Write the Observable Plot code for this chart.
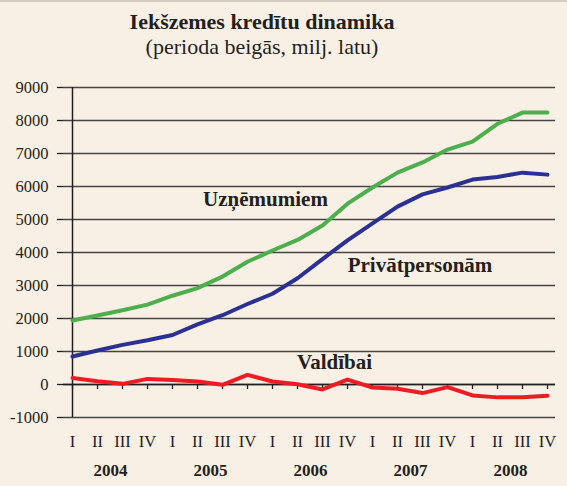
<!DOCTYPE html>
<html><head><meta charset="utf-8">
<script src="https://cdn.jsdelivr.net/npm/d3@7"></script>
<script src="https://cdn.jsdelivr.net/npm/@observablehq/plot@0.6"></script>
<style>
html,body{margin:0;padding:0;background:#f8f0e4;}
#wrap{position:relative;width:567px;height:486px;background:#f8f0e4;font-family:"Liberation Serif","Times New Roman",serif;color:#231f20;overflow:hidden;}
#topbar{position:absolute;left:0;top:0;width:567px;height:2px;background:#d6cec5;}
#head{position:relative;height:70px;}
.t{position:absolute;left:0;width:524px;text-align:center;line-height:1;font-size:22px;white-space:nowrap;}
#title{top:11px;font-weight:bold;}
#sub{top:36px;}
svg{display:block;}
</style></head><body>
<div id="wrap"><div id="topbar"></div>
<div id="head"><div class="t" id="title">Iekšzemes kredītu dinamika</div><div class="t" id="sub">(perioda beigās, milj. latu)</div></div>
<div id="chart"></div></div>
<script>
const years = [2004, 2005, 2006, 2007, 2008];
const quarterNames = ["I", "II", "III", "IV"];
const uznemumiem = [1940, 2090, 2250, 2420, 2690, 2920, 3270, 3720, 4060, 4380, 4820, 5480, 5970, 6420, 6730, 7120, 7360, 7900, 8240, 8240];
const privatpersonam = [850, 1030, 1200, 1340, 1500, 1820, 2100, 2440, 2750, 3220, 3800, 4370, 4880, 5390, 5760, 5970, 6210, 6290, 6420, 6360];
const valdibai = [200, 100, 20, 170, 140, 90, -10, 290, 90, 10, -150, 150, -90, -130, -260, -80, -330, -390, -390, -340];
const yTicks = [-1000, 0, 1000, 2000, 3000, 4000, 5000, 6000, 7000, 8000, 9000];
const seriesNames = ["Uzņēmumiem", "Privātpersonām", "Valdībai"];

const keys = years.flatMap(y => quarterNames.map(q => `${y}-${q}`));
const font = '"Liberation Serif","Times New Roman",serif';
const ink = "#231f20";
const colors = ["#4cae4c", "#2b3192", "#ed1c24"];
const seriesValues = [uznemumiem, privatpersonam, valdibai];

const labels = [
  {text: seriesNames[0], key: "2006-I", value: 5424, dx: -7},
  {text: seriesNames[1], key: "2007-III", value: 3424, dx: -2.5},
  {text: seriesNames[2], key: "2006-III", value: 455, dx: 12}
];

const lineMarks = seriesValues.map((vals, s) =>
  Plot.line(vals, {x: (d, i) => keys[i], y: d => d, stroke: colors[s], strokeWidth: 4, strokeLinejoin: "round"})
);
const labelMarks = labels.map(l =>
  Plot.text([l], {x: "key", y: "value", dx: l.dx, text: "text", lineAnchor: "bottom", fontWeight: "bold", fontSize: 21, fill: ink})
);

const chart = Plot.plot({
  width: 567,
  height: 416,
  marginTop: 17,
  marginBottom: 69,
  marginLeft: 63,
  marginRight: 12,
  x: {type: "point", domain: keys, padding: 0, label: null},
  y: {domain: [-1000, 9000], label: null},
  style: {fontFamily: font, fontSize: "16.5px", color: ink, background: "transparent"},
  marks: [
    Plot.gridY(yTicks, {stroke: "#444", strokeOpacity: 1, strokeWidth: 1.3}),
    Plot.axisY(yTicks, {label: null, tickSize: 6, tickPadding: 9, tickFormat: d => String(d), fontSize: 16.5, stroke: ink, strokeWidth: 1.3, fill: ink}),
    Plot.ruleX([keys[0]], {stroke: ink, strokeWidth: 1.5}),
    Plot.ruleY([0], {stroke: ink, strokeWidth: 1.5}),
    Plot.ruleX(keys, {x: d => d, y1: 0, y2: 0, insetBottom: -5, stroke: ink, strokeWidth: 1.3}),
    Plot.axisX(keys, {label: null, anchor: "bottom", tickSize: 0, tickPadding: 18, tickFormat: k => k.split("-")[1], fontSize: 16.5, fill: ink}),
    Plot.text(years, {x: y => `${y}-II`, frameAnchor: "bottom", dy: 58, dx: 13, lineAnchor: "bottom", text: d => String(d), fontWeight: "bold", fontSize: 17, fill: ink}),
    ...lineMarks,
    ...labelMarks
  ]
});
document.getElementById("chart").appendChild(chart);
</script>
</body></html>
